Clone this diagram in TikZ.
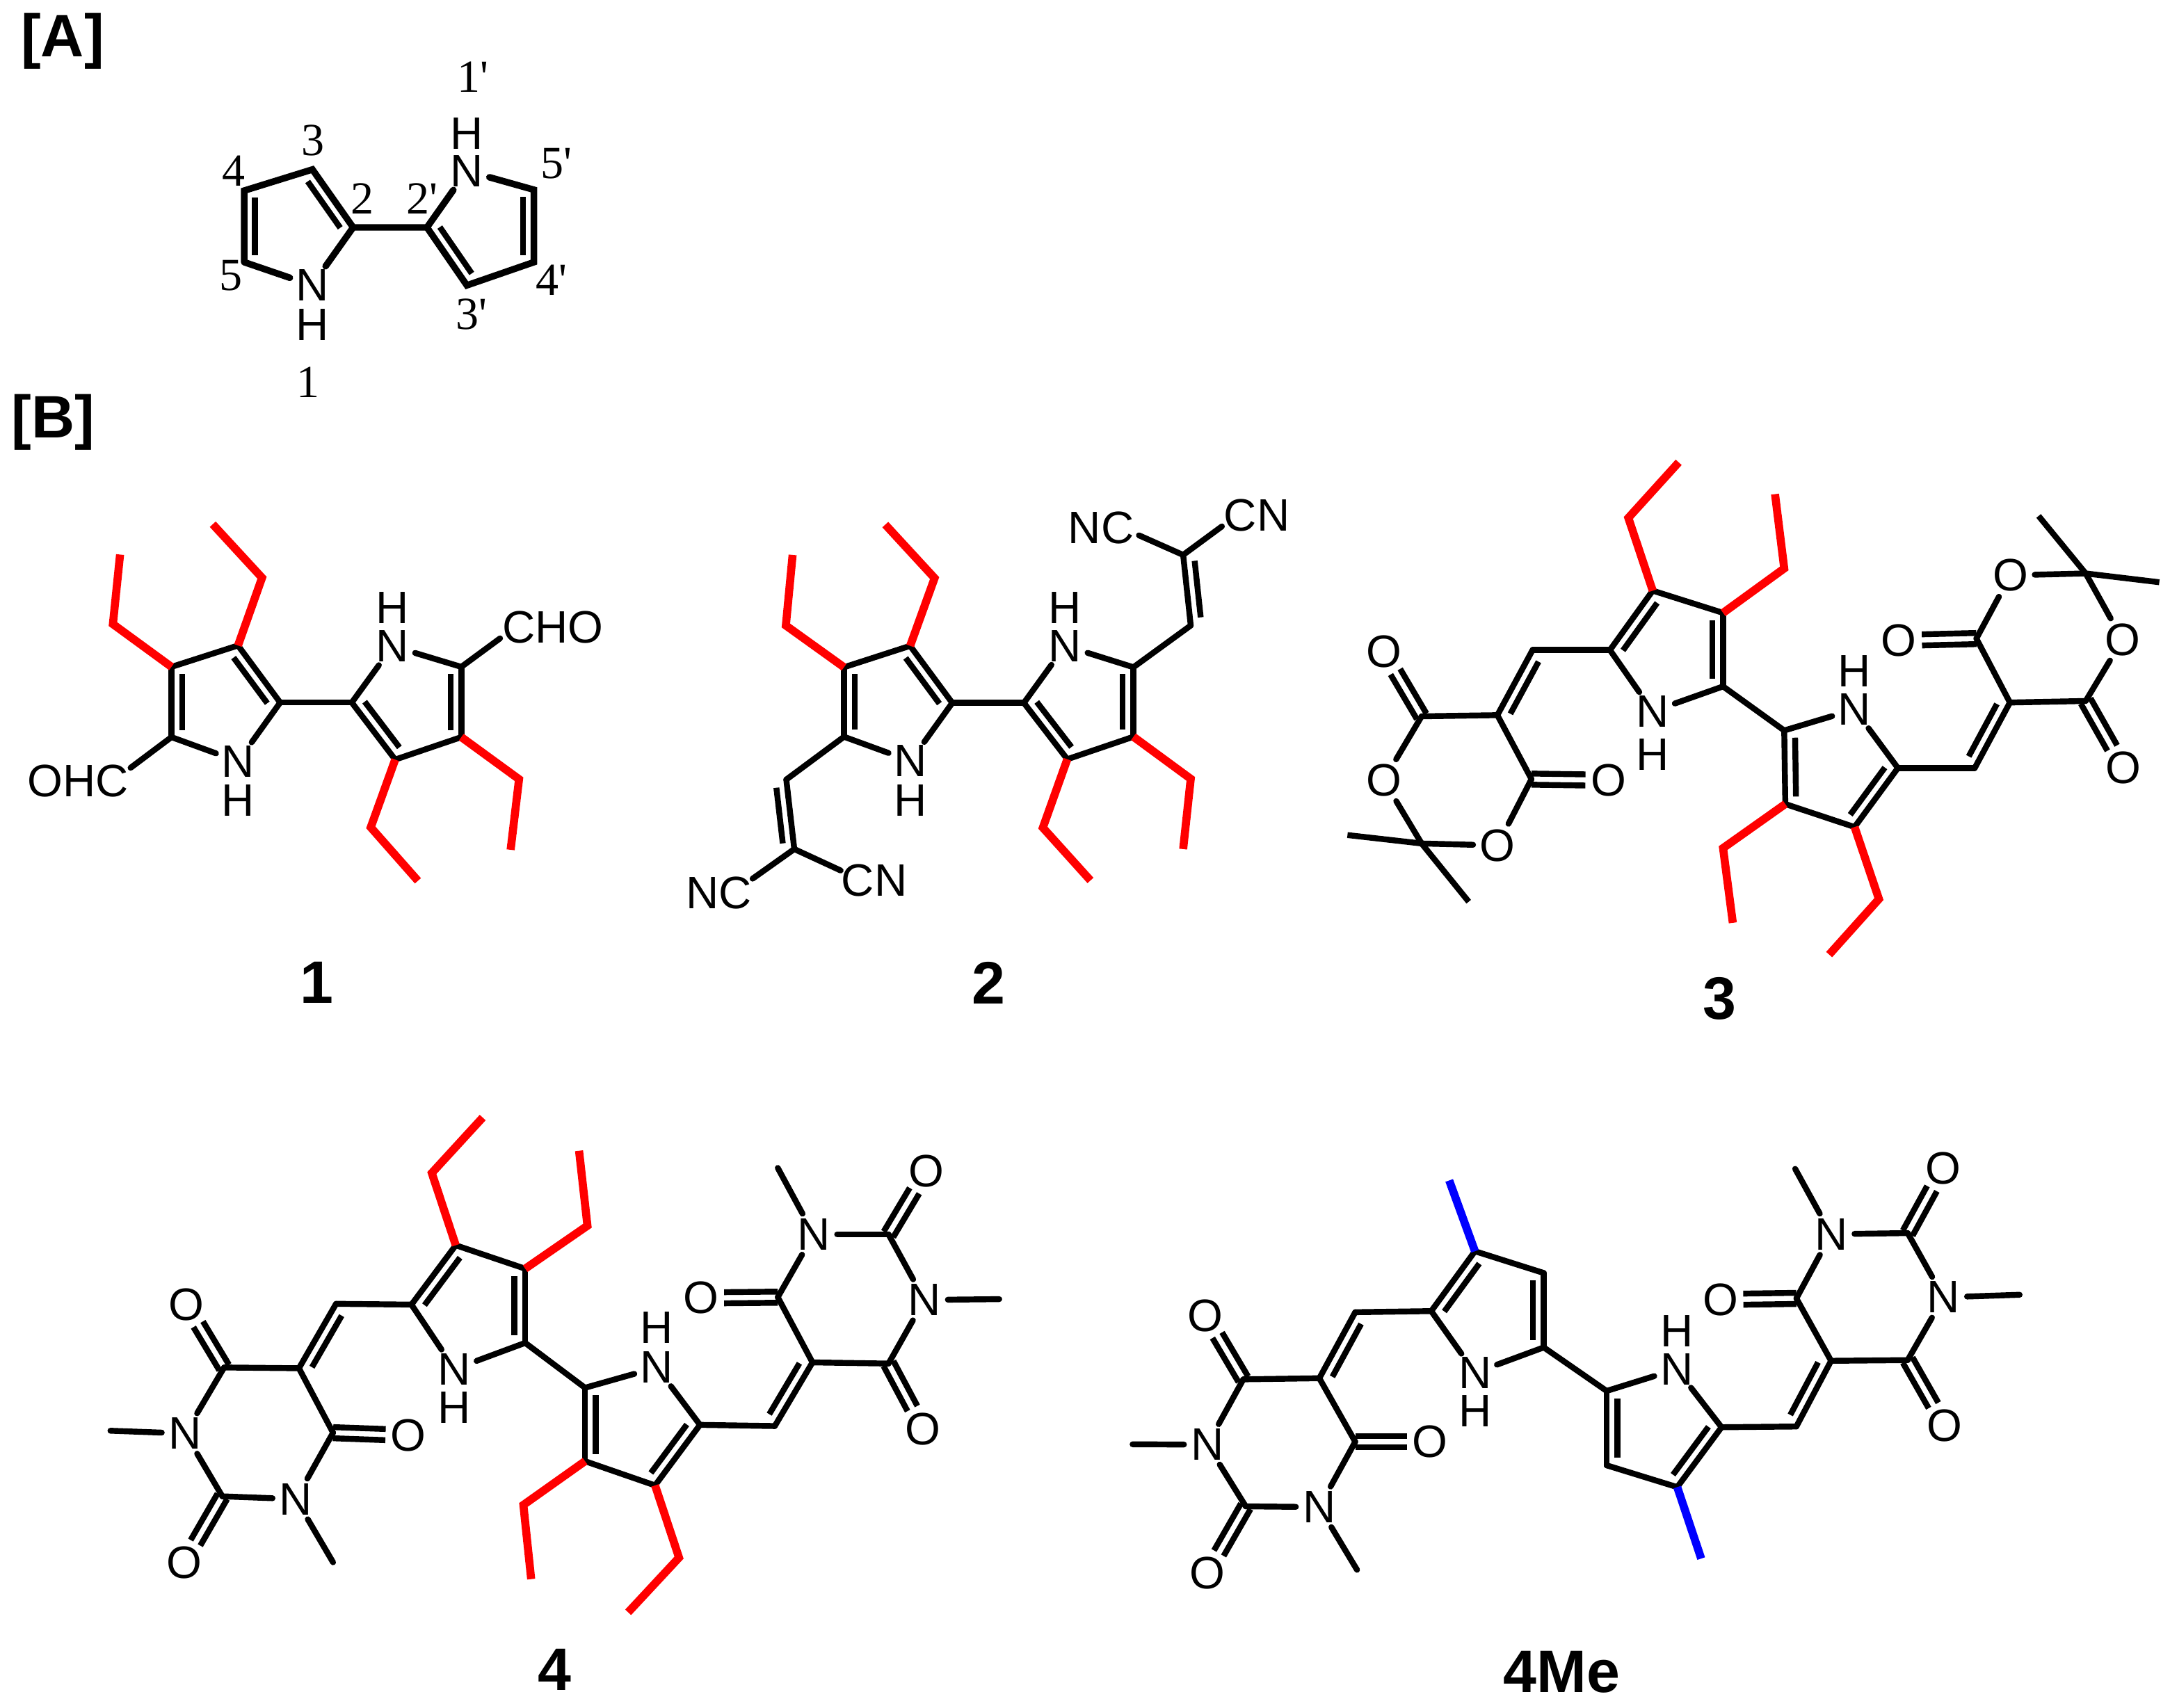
\documentclass[tikz,border=0pt]{standalone}
\usepackage{fontspec}
\setmainfont{Liberation Sans}
\newfontfamily\labserif{Liberation Serif}
\usetikzlibrary{calc}
\newcommand{\atomf}{\fontsize{18.6}{20}\selectfont}
\newcommand{\numf}{\labserif\fontsize{18.8}{20}\selectfont}
\newcommand{\boldf}{\bfseries\fontsize{24.5}{28}\selectfont}
\tikzset{
  bond/.style={line width=2.4pt,black,line cap=round},
  thinbond/.style={line width=2.4pt,black},
  redb/.style={line width=3.3pt,red,line join=miter},
  blueb/.style={line width=3.3pt,blue},
  atom/.style={circle,inner sep=0pt,minimum size=.66cm,font=\atomf},
  txt/.style={inner sep=0pt,font=\atomf},
  num/.style={inner sep=0pt,font=\numf},
  head/.style={inner sep=0pt,font=\boldf}
}
\newcommand{\atomlist}[1]{\foreach \n/\x/\y in {#1} \coordinate (\n) at (\x,\y);}
\newcommand{\hetero}[2]{\foreach \n/\x/\y in {#2} \node[atom] (\n) at (\x,\y) {#1};}
\newcommand{\bondlist}[1]{\foreach \p/\q in {#1} \draw[bond] (\p) -- (\q);}
\newcommand{\innerR}[2]{\draw[thinbond] ($(#1)!.1!(#2)!.155cm!-90:(#2)$) -- ($(#2)!.1!(#1)!.155cm!90:(#1)$);}
\newcommand{\innerL}[2]{\draw[thinbond] ($(#1)!.1!(#2)!.155cm!90:(#2)$) -- ($(#2)!.1!(#1)!.155cm!-90:(#1)$);}
\newcommand{\coDouble}[2]{%
  \draw[thinbond,shorten >=.33cm] ($(#1)!.08cm!90:(#2)$) -- ($(#2)!.08cm!-90:(#1)$);
  \draw[thinbond,shorten >=.33cm] ($(#1)!.08cm!-90:(#2)$) -- ($(#2)!.08cm!90:(#1)$);}
\newcommand{\ethyl}[5]{\coordinate (#1m) at (#2,#3); \coordinate (#1t) at (#4,#5);
  \draw[redb] (#1) -- (#1m) -- (#1t);}
\newcommand{\methyl}[4]{\coordinate (#2) at (#3,#4); \draw[bond,line cap=butt] (#1) -- (#2);}
\newcommand{\bluemethyl}[3]{\coordinate (#1t) at (#2,#3); \draw[blueb] (#1) -- (#1t);}
\begin{document}
\begin{tikzpicture}
\useasboundingbox (0,0) rectangle (31.2,-24.55);

% ---------- [A]
\begin{scope}[name prefix=A-,shift={(0cm,0cm)},x=0.00574cm,y=-0.004167cm]
  \node[head] (tA) at (157,142) {[A]};
  \node[head] (tB) at (133,1457) {[B]};
  \atomlist{c2/885/785,c3/783/585,c4/612/658,c5/612/905,d2/1070/785,d5/1338/655,d4/1338/905,d3/1170/985}
  \hetero{N}{n1/782/985,m1/1170/590}
  \node[atom] (h1) at (782,1120) {H};
  \node[atom] (h2) at (1170,460) {H};
  \draw[line width=2.7pt,line cap=round] (c2) -- (c3) -- (c4) -- (c5) (c2) -- (n1) -- (c5) (c2) -- (d2) -- (m1) -- (d5) -- (d4) -- (d3) -- (d2);
  \innerR{c3}{c2}
  \innerR{c5}{c4}
  \innerR{d5}{d4}
  \innerR{d3}{d2}
  \node[num] (l1) at (773,1320) {1};
  \node[num] (l2) at (908,685) {2};
  \node[num] (l3) at (785,485) {3};
  \node[num] (l4) at (585,590) {4};
  \node[num] (l5) at (578,952) {5};
  \node[num] (p1) at (1185,265) {1'};
  \node[num] (p2) at (1058,685) {2'};
  \node[num] (p3) at (1182,1085) {3'};
  \node[num] (p4) at (1382,968) {4'};
  \node[num] (p5) at (1395,565) {5'};
\end{scope}

% ---------- 1
\begin{scope}[name prefix=M1-,shift={(0cm,-7cm)},x=0.00606cm,y=-0.00513cm]
  \atomlist{a/407/505,b/565/445,c/665/605,d/407/702,e/835/605,f/1095/505,g/1095/702,h/938/765,choe/1187/425,ohce/310/788}
  \hetero{N}{n/565/770,nr/932/447}
  \node[atom] (hn) at (565,880) {H};
  \node[atom] (hr) at (932,340) {H};
  \node[txt] (cho) at (1312,393) {CHO};
  \node[txt] (ohc) at (185,825) {OHC};
  \bondlist{a/b,b/c,c/n,n/d,d/a,c/e,e/nr,nr/f,f/g,g/h,h/e,f/choe,d/ohce}
  \innerR{b}{c}\innerR{d}{a}\innerR{f}{g}\innerR{h}{e}
  \ethyl{b}{622}{255}{505}{105}
  \ethyl{a}{268}{385}{285}{190}
  \ethyl{h}{880}{955}{992}{1105}
  \ethyl{g}{1232}{820}{1212}{1018}
  \node[head] (lab) at (752,1390) {1};
\end{scope}

% ---------- 2
\begin{scope}[name prefix=M2-,shift={(9.5cm,-6.8cm)},x=0.00606cm,y=-0.00513cm]
  \atomlist{a/435/545,b/592/485,c/692/645,d/435/740,e/862/645,f/1122/545,g/1122/740,h/965/803,
    s1/298/860,s2/317/1055,t1/1258/428,t2/1240/230,e1/218/1138,e2/427/1115,e3/1135/175,e4/1332/150}
  \hetero{N}{n/593/808,nr/960/485}
  \node[atom] (hn) at (593,918) {H};
  \node[atom] (hr) at (960,378) {H};
  \node[txt] (nc1) at (138,1178) {NC};
  \node[txt] (cn1) at (507,1142) {CN};
  \node[txt] (nc2) at (1045,155) {NC};
  \node[txt] (cn2) at (1415,118) {CN};
  \bondlist{a/b,b/c,c/n,n/d,d/a,c/e,e/nr,nr/f,f/g,g/h,h/e,d/s1,s1/s2,s2/e1,s2/e2,f/t1,t1/t2,t2/e3,t2/e4}
  \innerR{b}{c}\innerR{d}{a}\innerR{f}{g}\innerR{h}{e}
  \innerL{s2}{s1}\innerL{t2}{t1}
  \ethyl{b}{650}{295}{533}{145}
  \ethyl{a}{297}{428}{313}{230}
  \ethyl{h}{907}{995}{1020}{1143}
  \ethyl{g}{1258}{858}{1240}{1055}
  \node[head] (lab) at (778,1430) {2};
\end{scope}

% ---------- 3
\begin{scope}[name prefix=M3-,shift={(19cm,-6.4cm)},x=0.00778cm,y=-0.005513cm]
  \atomlist{p1/533/535,p2/612/380,p3/742/438,p4/742/630,q1/855/745,q2/1065/843,q3/985/997,q4/857/937,
    l1/390/535,l2/325/705,l3/185/708,l4/185/1040,l5/388/872,
    r1/1207/843,r2/1272/672,r3/1210/505,r4/1412/668,r5/1412/335}
  \hetero{N}{n/612/695,nq/985/690}
  \node[atom] (hn) at (612,808) {H};
  \node[atom] (hq) at (985,590) {H};
  \hetero{O}{oa/115/540,ob/115/875,oc/325/1045,od/530/875,oe/1067/510,of/1273/340,og/1480/508,oh/1482/843}
  \bondlist{p1/p2,p2/p3,p3/p4,p4/n,n/p1,p4/q1,q1/nq,nq/q2,q2/q3,q3/q4,q4/q1,
    p1/l1,l1/l2,l2/l3,l3/ob,ob/l4,l4/oc,oc/l5,l5/l2,
    q2/r1,r1/r2,r2/r3,r3/of,of/r5,r5/og,og/r4,r4/r2}
  \innerR{p1}{p2}\innerR{p3}{p4}\innerR{q2}{q3}\innerR{q4}{q1}
  \innerL{l1}{l2}\innerL{r1}{r2}
  \coDouble{l3}{oa}\coDouble{l5}{od}\coDouble{r3}{oe}\coDouble{r4}{oh}
  \methyl{l4}{x1}{48}{1018}\methyl{l4}{x2}{272}{1192}
  \methyl{r5}{x3}{1325}{185}\methyl{r5}{x4}{1548}{358}
  \ethyl{p2}{567}{190}{660}{45}
  \ethyl{p3}{855}{322}{838}{128}
  \ethyl{q4}{742}{1052}{760}{1247}
  \ethyl{q3}{1030}{1185}{938}{1330}
  \node[head] (lab) at (735,1445) {3};
\end{scope}

% ---------- 4
\begin{scope}[name prefix=M4-,shift={(1.2cm,-15.8cm)},x=0.00861cm,y=-0.005609cm]
  \atomlist{p1/548/527,p2/622/375,p3/738/435,p4/738/625,q1/838/740,q2/1030/835,q3/955/990,q4/838/928,
    l1/422/525,l2/360/690,l3/235/688,l4/232/1018,l5/417/855,
    r1/1155/838,r2/1218/675,r3/1160/508,r4/1345/678,r5/1345/347}
  \hetero{N}{n/620/692,nq/958/688,na/170/857,nb/355/1025,nc/1220/347,nd/1405/515}
  \node[atom] (hn) at (620,790) {H};
  \node[atom] (hq) at (958,585) {H};
  \hetero{O}{oa/172/527,ob/543/862,oc/168/1188,oe/1032/510,of/1403/845,og/1408/185}
  \bondlist{p1/p2,p2/p3,p3/p4,p4/n,n/p1,p4/q1,q1/nq,nq/q2,q2/q3,q3/q4,q4/q1,
    p1/l1,l1/l2,l2/l3,l3/na,na/l4,l4/nb,nb/l5,l5/l2,
    q2/r1,r1/r2,r2/r3,r3/nc,nc/r5,r5/nd,nd/r4,r4/r2}
  \innerR{p1}{p2}\innerR{p3}{p4}\innerR{q2}{q3}\innerR{q4}{q1}
  \innerL{l1}{l2}\innerL{r1}{r2}
  \coDouble{l3}{oa}\coDouble{l5}{ob}\coDouble{l4}{oc}\coDouble{r3}{oe}\coDouble{r4}{of}\coDouble{r5}{og}
  \coordinate (x1) at (45,850); \coordinate (x2) at (417,1187);
  \coordinate (x3) at (1160,177); \coordinate (x4) at (1530,513);
  \bondlist{na/x1,nb/x2,nc/x3,nd/x4}
  \ethyl{p2}{582}{190}{667}{48}
  \ethyl{p3}{842}{325}{828}{133}
  \ethyl{q4}{735}{1040}{748}{1230}
  \ethyl{q3}{995}{1175}{910}{1315}
  \node[head] (lab) at (787,1462) {4};
\end{scope}

% ---------- 4Me
\begin{scope}[name prefix=M5-,shift={(16cm,-16.4cm)},x=0.00861cm,y=-0.005224cm]
  \atomlist{p1/532/470,p2/605/305,p3/720/365,p4/720/570,q1/825/690,q2/1017/790,q3/943/955,q4/825/895,
    l1/405/473,l2/345/655,l3/218/658,l4/222/1008,l5/405/830,
    r1/1142/788,r2/1200/607,r3/1142/435,r4/1328/605,r5/1328/255}
  \hetero{N}{n/605/640,nq/942/630,na/158/838,nb/345/1010,nc/1200/258,nd/1388/432}
  \node[atom] (hn) at (605,745) {H};
  \node[atom] (hq) at (942,525) {H};
  \hetero{O}{oa/155/482,ob/530/830,oc/158/1192,oe/1015/438,of/1390/785,og/1387/77}
  \bondlist{p1/p2,p2/p3,p3/p4,p4/n,n/p1,p4/q1,q1/nq,nq/q2,q2/q3,q3/q4,q4/q1,
    p1/l1,l1/l2,l2/l3,l3/na,na/l4,l4/nb,nb/l5,l5/l2,
    q2/r1,r1/r2,r2/r3,r3/nc,nc/r5,r5/nd,nd/r4,r4/r2}
  \innerR{p1}{p2}\innerR{p3}{p4}\innerR{q2}{q3}\innerR{q4}{q1}
  \innerL{l1}{l2}\innerL{r1}{r2}
  \coDouble{l3}{oa}\coDouble{l5}{ob}\coDouble{l4}{oc}\coDouble{r3}{oe}\coDouble{r4}{of}\coDouble{r5}{og}
  \coordinate (x1) at (33,837); \coordinate (x2) at (408,1183);
  \coordinate (x3) at (1140,78); \coordinate (x4) at (1515,425);
  \bondlist{na/x1,nb/x2,nc/x3,nd/x4}
  \bluemethyl{p2}{562}{110}
  \bluemethyl{q3}{983}{1152}
  \node[head] (lab) at (750,1465) {4Me};
\end{scope}
\end{tikzpicture}
\end{document}
